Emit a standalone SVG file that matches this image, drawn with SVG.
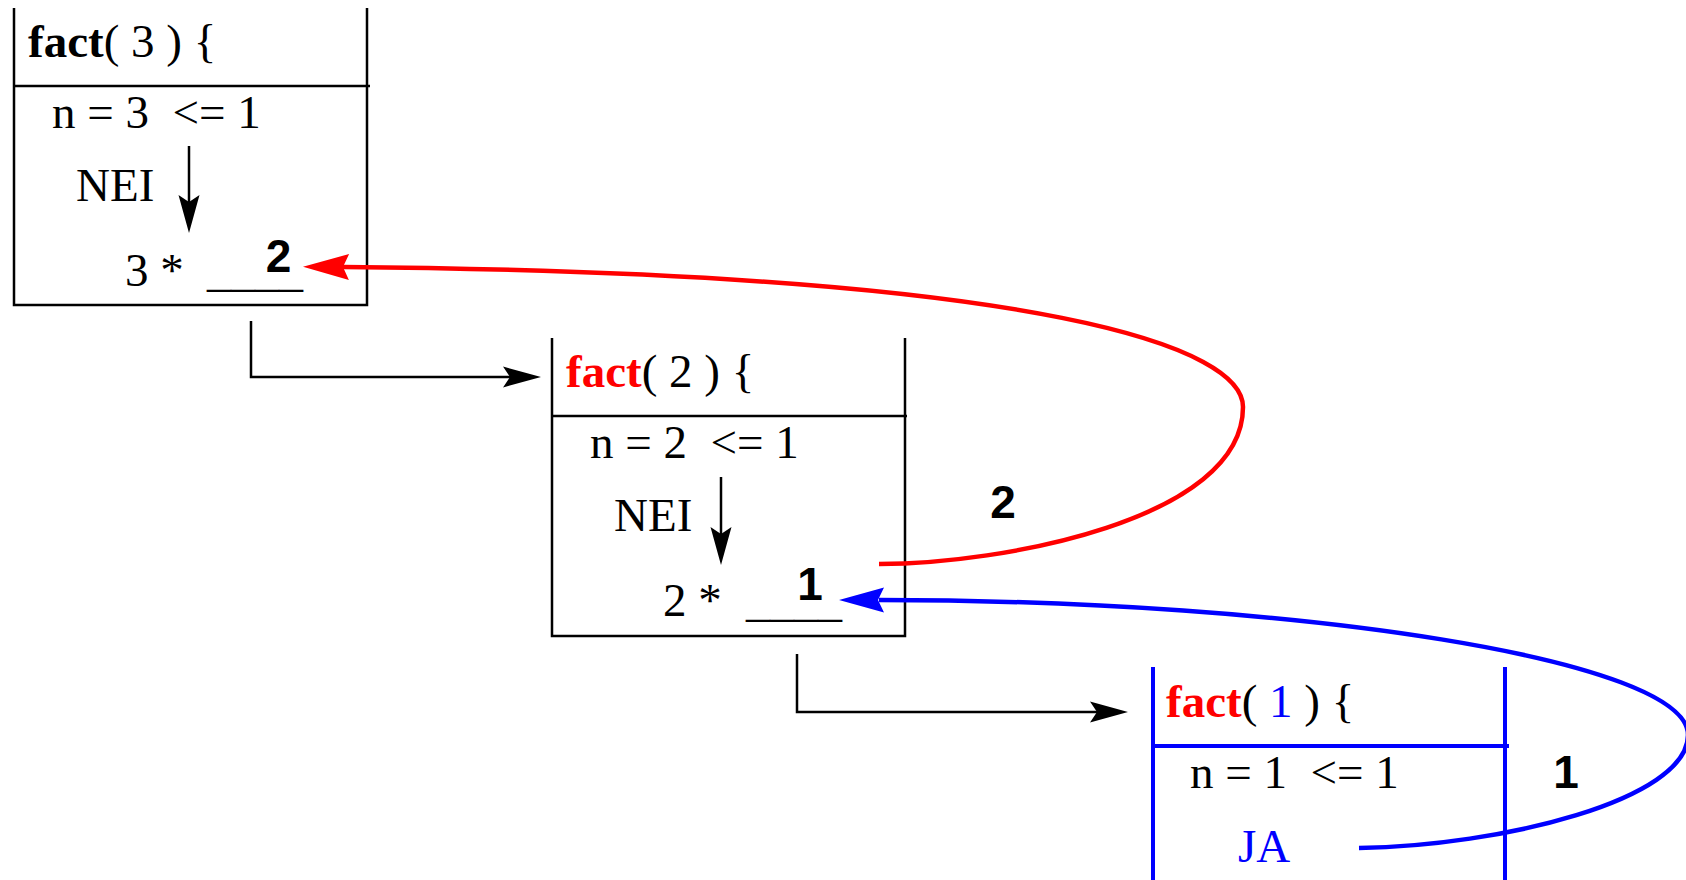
<svg xmlns="http://www.w3.org/2000/svg" width="1686" height="880" viewBox="0 0 1686 880">
<style>
.frame{fill:none;stroke:#000;stroke-width:2.5}
.bframe{fill:none;stroke:#0000ff;stroke-width:4}
.t{font-family:"Liberation Serif","Times New Roman",serif;font-size:47px;fill:#000}
.b{font-weight:bold}
.red{fill:#ff0000}
.blue{fill:#0000ff}
.lbl{font-family:"Liberation Sans",Arial,sans-serif;font-size:46px;font-weight:bold;fill:#000;text-anchor:middle}
.blk{fill:none;stroke:#000;stroke-width:2.5}
.rc{fill:none;stroke:#ff0000;stroke-width:4.5}
.bc{fill:none;stroke:#0000ff;stroke-width:4.5}
</style>
<defs>
<marker id="ahB" markerUnits="userSpaceOnUse" viewBox="-40 -12 42 24" markerWidth="42" markerHeight="24" refX="-31" refY="0" orient="auto" overflow="visible">
<path d="M0,0 L-38,-10.5 L-31,0 L-38,10.5 Z" fill="#000"/>
</marker>
<marker id="ahR" markerUnits="userSpaceOnUse" viewBox="-48 -14 50 28" markerWidth="50" markerHeight="28" refX="-40" refY="0" orient="auto" overflow="visible">
<path d="M0,0 L-46,-13 L-40,0 L-46,13 Z" fill="#ff0000"/>
</marker>
<marker id="ahU" markerUnits="userSpaceOnUse" viewBox="-48 -14 50 28" markerWidth="50" markerHeight="28" refX="-40" refY="0" orient="auto" overflow="visible">
<path d="M0,0 L-45,-12.5 L-39,0 L-45,12.5 Z" fill="#0000ff"/>
</marker>
</defs>
<rect width="1686" height="880" fill="#fff"/>

<g id="fact3">
<path class="frame" d="M14,8 V305 H367 V8 M14,86 H370"/>
<text class="t" x="28" y="57"><tspan class="b">fact</tspan>( 3 ) {</text>
<text class="t" x="52" y="128" xml:space="preserve">n = 3  &lt;= 1</text>
<text class="t" x="76" y="201">NEI</text>
<text class="t" x="125" y="286">3 *</text>
<text class="t" x="207" y="286" textLength="96" lengthAdjust="spacingAndGlyphs">____</text>
<text class="lbl" x="278.5" y="272">2</text>
</g>

<g id="fact2">
<path class="frame" d="M552,338 V636 H905 V338 M552,416 H907"/>
<text class="t" x="566" y="387"><tspan class="b red">fact</tspan>( 2 ) {</text>
<text class="t" x="590" y="458" xml:space="preserve">n = 2  &lt;= 1</text>
<text class="t" x="614" y="531">NEI</text>
<text class="t" x="663" y="616">2 *</text>
<text class="t" x="746" y="616" textLength="96" lengthAdjust="spacingAndGlyphs">____</text>
<text class="lbl" x="810" y="600">1</text>
</g>

<g id="fact1">
<path class="bframe" d="M1153,667 V880 M1505,667 V880 M1153,746 H1509"/>
<text class="t" x="1166" y="717"><tspan class="b red">fact</tspan>( <tspan class="blue">1</tspan> ) {</text>
<text class="t" x="1190" y="788" xml:space="preserve">n = 1  &lt;= 1</text>
<text class="t blue" x="1238" y="862">JA</text>
</g>

<g id="connectors">
<path class="blk" d="M189,146 V202" marker-end="url(#ahB)"/>
<path class="blk" d="M721,477 V534" marker-end="url(#ahB)"/>
<path class="blk" d="M251,321 V377 H510" marker-end="url(#ahB)"/>
<path class="blk" d="M797,654 V712 H1097" marker-end="url(#ahB)"/>
<path class="rc" d="M879,564 C1000,564 1243,520 1243,407 C1243,350 1060,273 343,267" marker-end="url(#ahR)"/>
<path class="bc" d="M1359,848 C1500,846 1688,800 1688,735 C1688,660 1300,600 879,600" marker-end="url(#ahU)"/>
<text class="lbl" x="1003" y="518">2</text>
<text class="lbl" x="1566" y="788">1</text>
</g>
</svg>
